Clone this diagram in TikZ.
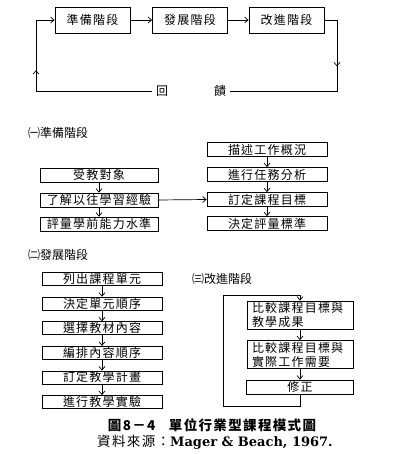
\documentclass[tikz,border=0pt]{standalone}
\usepackage{fontspec}
\newfontfamily\cjk[LetterSpace=10]{Noto Sans CJK TC}
\newfontfamily\cjkplain{Noto Sans CJK TC}
\newfontfamily\capserif{DejaVu Serif}
\usetikzlibrary{arrows.meta,decorations.markings}
\tikzset{
  stage box/.style={draw,line width=0.8pt,minimum width=75pt,minimum height=26pt,inner sep=0pt,font=\cjk\fontsize{12}{13}\selectfont},
  step box/.style={draw,line width=0.8pt,minimum width=120pt,minimum height=14pt,inner sep=0pt,font=\cjk\fontsize{12}{13}\selectfont},
  pair box/.style={draw,line width=0.8pt,text width=96pt,inner xsep=5pt,inner ysep=0pt,minimum height=28pt,align=left,font=\cjk\fontsize{12}{14}\selectfont},
  part title/.style={anchor=west,inner sep=0pt,font=\cjkplain\fontsize{12}{13}\selectfont},
  loop label/.style={inner sep=4pt,font=\cjkplain\fontsize{12}{14}\selectfont},
  flow line/.style={line width=0.7pt},
  flow arrow/.style={flow line,-{Straight Barb[length=3.5pt,width=6pt]}},
  mid arrow/.style={postaction={decorate},decoration={markings,mark=at position #1 with {\arrow{Straight Barb[length=3.5pt,width=6pt]}}}},
}

\begin{document}
\begin{tikzpicture}[x=1pt,y=1pt]
  \useasboundingbox (0,0) rectangle (407,-454);
  % top cycle
  \node[stage box] (prep) at (92.5,-20) {準備階段};
  \node[stage box] (dev) at (190,-20) {發展階段};
  \node[stage box] (impr) at (286.5,-20) {改進階段};
  \node[loop label] (hui) at (162,-91) {回};
  \node[loop label] (kui) at (220,-91) {饋};
  \coordinate (lt) at (36,-20);
  \coordinate (lb) at (36,-91);
  \coordinate (rt) at (337,-20);
  \coordinate (rb) at (337,-91);
  \draw[flow arrow] (prep) -- (dev);
  \draw[flow arrow] (dev) -- (impr);
  \draw[flow line,mid arrow=0.31] (impr.east) -- (rt) -- (rb) -- (kui.east);
  \draw[flow arrow,mid arrow=0.665] (hui.west) -- (lb) -- (lt) -- (prep.west);

  % part one
  \node[part title] (t1) at (28,-133) {㈠準備階段};
  \node[step box,minimum width=118pt] (a1) at (99,-175) {受教對象};
  \node[step box,minimum width=118pt] (a2) at (99,-200) {了解以往學習經驗};
  \node[step box,minimum width=118pt] (a3) at (99,-224) {評量學前能力水準};
  \node[step box] (b1) at (267,-149.5) {描述工作概況};
  \node[step box] (b2) at (267,-174.5) {進行任務分析};
  \node[step box] (b3) at (267,-199.5) {訂定課程目標};
  \node[step box] (b4) at (267,-223.5) {決定評量標準};
  \draw[flow arrow] (a1) -- (a2);
  \draw[flow arrow] (a2) -- (a3);
  \draw[flow arrow] (b1) -- (b2);
  \draw[flow arrow] (b2) -- (b3);
  \draw[flow arrow] (b3) -- (b4);
  \draw[flow arrow] (a2.east) -- (b3.west);

  % part two
  \node[part title] (t2) at (28,-255) {㈡發展階段};
  \node[step box,minimum height=13pt] (d1) at (102,-279) {列出課程單元};
  \node[step box,minimum height=13pt] (d2) at (102,-303.6) {決定單元順序};
  \node[step box,minimum height=13pt] (d3) at (102,-328.2) {選擇教材內容};
  \node[step box,minimum height=13pt] (d4) at (102,-352.8) {編排內容順序};
  \node[step box,minimum height=13pt] (d5) at (102,-377.4) {訂定教學計畫};
  \node[step box,minimum height=13pt] (d6) at (102,-402) {進行教學實驗};
  \draw[flow arrow] (d1) -- (d2);
  \draw[flow arrow] (d2) -- (d3);
  \draw[flow arrow] (d3) -- (d4);
  \draw[flow arrow] (d4) -- (d5);
  \draw[flow arrow] (d5) -- (d6);

  % part three
  \node[part title] (t3) at (192,-279) {㈢改進階段};
  \node[pair box] (c1) at (300,-315) {比較課程目標與\\教學成果};
  \node[pair box] (c2) at (300,-354.5) {比較課程目標與\\實際工作需要};
  \node[step box,minimum width=107pt] (c3) at (300,-387) {修正};
  \coordinate (cb) at (300,-406);
  \coordinate (cbl) at (223,-406);
  \coordinate (ctl) at (223,-295);
  \coordinate (ct) at (300,-295);
  \draw[flow arrow] (c1) -- (c2);
  \draw[flow arrow] (c2) -- (c3);
  \draw[flow arrow] (c3.south) -- (cb) -- (cbl) -- (ctl) -- (ct) -- (c1.north);

  % caption
  \node[inner sep=0pt,font=\cjk\bfseries\fontsize{13.5}{15}\selectfont] (cap1) at (212,-425) {圖8－4\quad 單位行業型課程模式圖};
  \node[inner sep=0pt] (cap2) at (215,-442) {{\cjk\fontsize{13.5}{15}\selectfont 資料來源：}{\capserif\bfseries\fontsize{13}{15}\selectfont Mager \& Beach, 1967.}};
\end{tikzpicture}
\end{document}
